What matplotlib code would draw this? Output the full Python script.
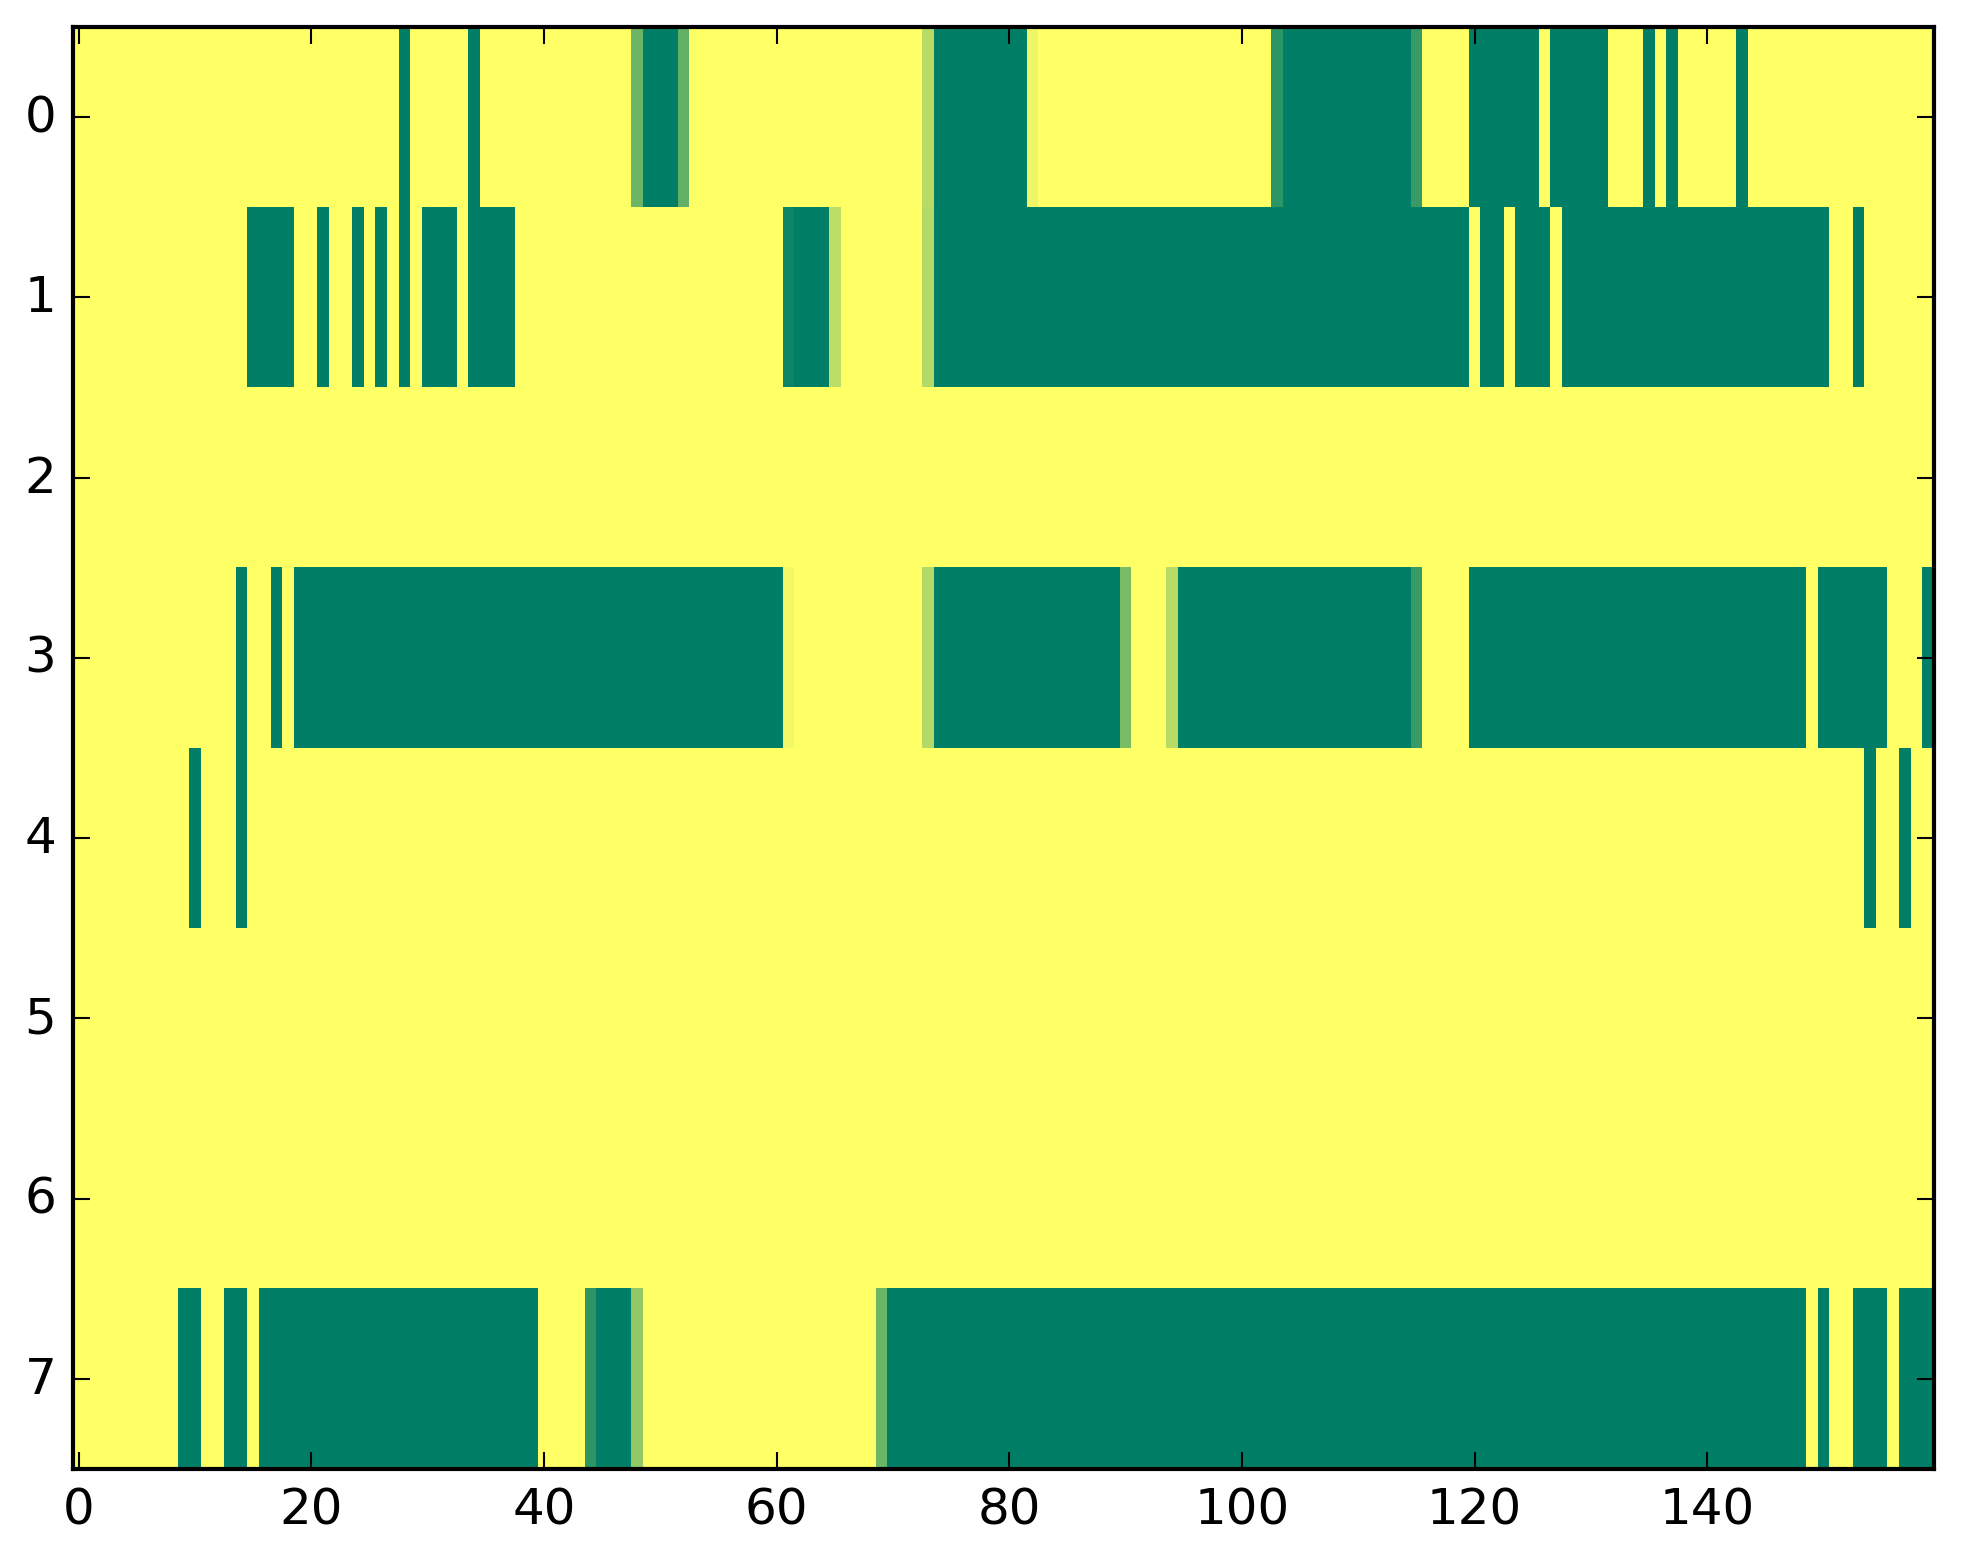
import matplotlib
matplotlib.use('Agg')
import matplotlib.pyplot as plt
import numpy as np

plt.style.use('classic')

n_cols = 160

# green (value 0) runs per row, inclusive column ranges
row0_green = [(28, 28), (34, 34), (49, 51), (74, 81), (104, 114), (120, 125),
              (127, 131), (135, 135), (137, 137), (143, 143)]
row1_green = [(15, 18), (21, 21), (24, 24), (26, 26), (28, 28), (30, 32), (34, 37),
              (62, 64), (74, 119), (121, 122), (124, 126), (128, 150), (153, 153)]
row2_green = []
row3_green = [(14, 14), (17, 17), (19, 60), (74, 89), (95, 114), (120, 148),
              (150, 155), (159, 159)]
row4_green = [(10, 10), (14, 14), (154, 154), (157, 157)]
row5_green = []
row6_green = []
row7_green = [(9, 10), (13, 14), (16, 39), (45, 47), (70, 148), (150, 150),
              (153, 155), (157, 159)]

# cells with in-between values
row0_partial = {48: 0.42, 52: 0.38, 73: 0.72, 82: 0.93, 103: 0.17, 115: 0.22}
row1_partial = {61: 0.05, 65: 0.74, 73: 0.70}
row3_partial = {61: 0.95, 73: 0.70, 90: 0.48, 94: 0.72, 115: 0.22}
row7_partial = {44: 0.18, 48: 0.58, 69: 0.42}

rows_green = [row0_green, row1_green, row2_green, row3_green,
              row4_green, row5_green, row6_green, row7_green]
rows_partial = [row0_partial, row1_partial, {}, row3_partial,
                {}, {}, {}, row7_partial]


def build_row(green, partial):
    row = np.ones(n_cols)
    for a, b in green:
        row[a:b + 1] = 0.0
    for c, v in partial.items():
        row[c] = v
    return row


grid = np.array([build_row(g, p) for g, p in zip(rows_green, rows_partial)])

fig = plt.figure(figsize=(1963 / 300, 1564 / 300), dpi=300)
ax = fig.add_axes([73 / 1963, 94 / 1564, 1861 / 1963, 1442 / 1564])
ax.imshow(grid, cmap='summer', aspect='auto', interpolation='nearest', vmin=0, vmax=1)
ax.set_xticks(range(0, 160, 20))
ax.set_yticks(range(8))
fig.savefig('out.png', dpi=300, facecolor='white')
